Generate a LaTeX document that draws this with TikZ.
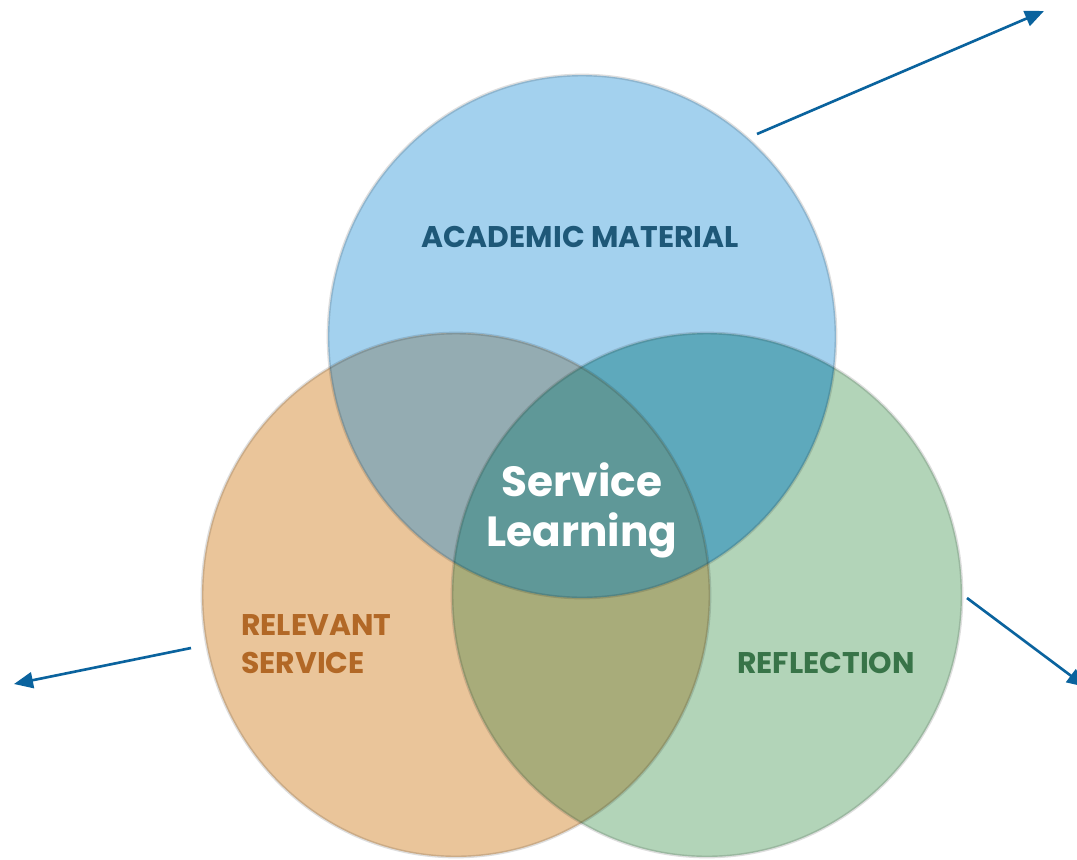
\documentclass[tikz,border=0pt]{standalone}
\usepackage{fontspec}
\setmainfont{Poppins}
\usetikzlibrary{arrows.meta}

\begin{document}
\begin{tikzpicture}[x=0.02cm, y=-0.02cm,
	ringedge/.style={draw=black, draw opacity=0.13, line width=1.6pt},
	pointer/.style={draw=arrowblue, line width=1.5pt, -{Triangle[length=0.38cm, width=0.32cm]}},
	venntext/.style={font=\fontsize{17}{21.5}\selectfont\bfseries, inner sep=0pt}]

	% Define colors
	\definecolor{matblue}{RGB}{163, 209, 238}
	\definecolor{servorange}{RGB}{234, 197, 154}
	\definecolor{reflgreen}{RGB}{178, 212, 184}
	\definecolor{blueorange}{RGB}{148, 172, 178}
	\definecolor{bluegreen}{RGB}{94, 169, 188}
	\definecolor{orangegreen}{RGB}{168, 172, 122}
	\definecolor{centerteal}{RGB}{95, 152, 152}
	\definecolor{matdark}{RGB}{30, 88, 120}
	\definecolor{servdark}{RGB}{178, 104, 38}
	\definecolor{refldark}{RGB}{56, 116, 72}
	\definecolor{arrowblue}{RGB}{10, 99, 158}

	% The three circles
	\def\matshape{(582,336.5) ellipse [x radius=5.08cm, y radius=5.23cm]}
	\def\servshape{(456,595) ellipse [x radius=5.08cm, y radius=5.24cm]}
	\def\reflshape{(707,595) ellipse [x radius=5.1cm, y radius=5.24cm]}

	% Draw the background
	\clip (0,0) rectangle (1077,859);
	\fill[white] (0,0) rectangle (1077,859);

	% Draw the circles
	\fill[matblue] \matshape;
	\fill[servorange] \servshape;
	\fill[reflgreen] \reflshape;

	% Draw the overlaps
	\begin{scope}
		\clip \matshape;
		\fill[blueorange] \servshape;
		\fill[bluegreen] \reflshape;
	\end{scope}
	\begin{scope}
		\clip \servshape;
		\fill[orangegreen] \reflshape;
	\end{scope}
	\begin{scope}
		\clip \matshape;
		\clip \servshape;
		\fill[centerteal] \reflshape;
	\end{scope}

	% Draw the circle edges
	\draw[ringedge] \matshape;
	\draw[ringedge] \servshape;
	\draw[ringedge] \reflshape;

	% Draw the labels
	\node[venntext, text=matdark] (academic) at (580,237) {ACADEMIC MATERIAL};
	\node[venntext, text=white, align=center, font=\fontsize{24}{28.5}\selectfont\bfseries] (core) at (582,510) {Service\\Learning};
	\node[venntext, text=servdark, align=left, anchor=west] (relevant) at (241,644) {RELEVANT\\SERVICE};
	\node[venntext, text=refldark] (reflection) at (826,663) {REFLECTION};

	% Draw the arrows
	\coordinate (matfrom) at (757,134);
	\coordinate (matto) at (1044,11);
	\coordinate (servfrom) at (191,648);
	\coordinate (servto) at (14,684);
	\coordinate (reflfrom) at (967,598);
	\coordinate (reflto) at (1086,687);
	\draw[pointer] (matfrom) -- (matto);
	\draw[pointer] (servfrom) -- (servto);
	\draw[pointer] (reflfrom) -- (reflto);

\end{tikzpicture}
\end{document}
